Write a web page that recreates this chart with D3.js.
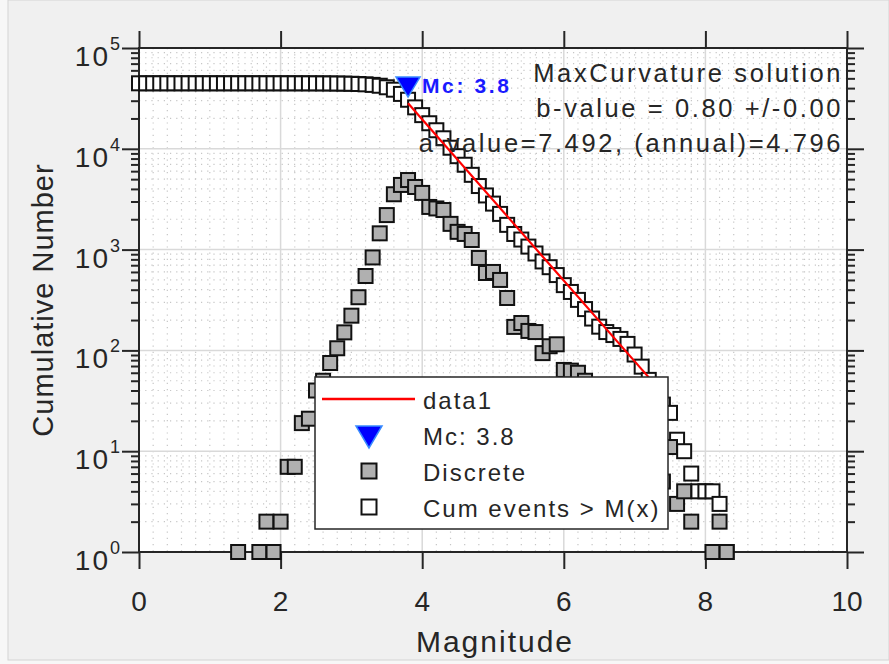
<!DOCTYPE html>
<html>
<head>
  <meta charset="utf-8">
  <script src="https://d3js.org/d3.v7.min.js"></script>
  <style>
    body{ margin:0; background:#f7f7f7; }
    text{ font-family: Arial, "Liberation Sans", Helvetica, sans-serif; fill:#262626; }
    .tick text{ display:none; }
    path.domain{ display:none; }
    .tick line{ stroke:#262626; stroke-width:2; }
  </style>
</head>
<body>
<script>
  // magnitude bins for the cumulative curve
  var cumMag = [0.0,0.1,0.2,0.3,0.4,0.5,0.6,0.7,0.8,0.9,1.0,1.1,1.2,1.3,1.4,1.5,1.6,1.7,1.8,1.9,
    2.0,2.1,2.2,2.3,2.4,2.5,2.6,2.7,2.8,2.9,3.0,3.1,3.2,3.3,3.4,3.5,3.6,3.7,3.8,3.9,
    4.0,4.1,4.2,4.3,4.4,4.5,4.6,4.7,4.8,4.9,5.0,5.1,5.2,5.3,5.4,5.5,5.6,5.7,5.8,5.9,
    6.0,6.1,6.2,6.3,6.4,6.5,6.6,6.7,6.8,6.9,7.0,7.1,7.2,7.3,7.4,7.5,7.6,7.7,7.8,7.9,
    8.0,8.1,8.2,8.3];
  var cumCount = [44650,44650,44650,44650,44650,44650,44650,44650,44650,44650,44650,44650,44650,44650,44650,44649,44649,44649,44648,44646,
    44645,44643,44636,44629,44610,44589,44549,44499,44424,44319,44168,43947,43610,43063,42227,40777,38577,35037,30657,25757,
    21577,17927,15277,12717,10247,8447,6947,5517,4272,3446,2860,2260,1760,1429,1258,1071,915,763,669,559,
    444,380,317,257,207,172,152,142,130,116,91,69,51,39,29,24,13,10,6,4,
    4,4,3,1];

  // discrete counts (non-empty bins only)
  var discMag = [1.4,1.7,1.8,1.9,2.0,2.1,2.2,2.3,2.4,2.5,2.6,2.7,2.8,2.9,3.0,3.1,3.2,3.3,3.4,3.5,
    3.6,3.7,3.8,3.9,4.0,4.1,4.2,4.3,4.4,4.5,4.6,4.7,4.8,4.9,5.0,5.1,5.2,5.3,5.4,5.5,
    5.6,5.7,5.8,5.9,6.0,6.1,6.2,6.3,6.4,6.5,6.6,6.7,6.8,6.9,7.0,7.1,7.2,7.3,7.4,7.5,
    7.6,7.7,7.8,8.1,8.2,8.3];
  var discCount = [1,1,2,1,2,7,7,19,21,40,50,75,105,151,221,337,547,836,1450,2200,
    3540,4380,4900,4180,3650,2650,2560,2470,1800,1500,1430,1245,826,586,600,500,331,171,187,156,
    152,94,110,115,64,63,60,50,35,20,10,12,14,25,22,18,12,10,5,11,
    3,4,2,1,2,1];

  var fitMag = [3.8, 7.2];
  var fitCount = [28300, 54];
  var mcMag = 3.8, mcCount = 41000;

  var xTicks = [0,2,4,6,8,10];
  var yTicks = [1,10,100,1000,10000,100000];
  var yExp = ['0','1','2','3','4','5'];
  var notes = ['MaxCurvature solution', 'b-value = 0.80 +/-0.00', 'a-value=7.492, (annual)=4.796'];
  var legendItems = ['data1', 'Mc: 3.8', 'Discrete', 'Cum events > M(x)'];

  var width = 889, height = 664;
  var box = {left: 139, right: 847, top: 48, bottom: 552};

  var x = d3.scaleLinear().domain([0, 10]).range([box.left, box.right]);
  var y = d3.scaleLog().domain([1, 1e5]).range([box.bottom, box.top]);

  var svg = d3.select('body').append('svg')
    .attr('width', width)
    .attr('height', height);

  // figure background
  svg.append('rect').attr('x', 8).attr('y', 0).attr('width', width - 8).attr('height', 660)
    .attr('fill', '#f0f0f0').attr('stroke', '#d4d4d4');

  svg.append('rect')
    .attr('x', box.left).attr('y', box.top)
    .attr('width', box.right - box.left).attr('height', box.bottom - box.top)
    .attr('fill', '#ffffff');

  // minor grid (dotted)
  var xMinor = d3.range(0.2, 10, 0.2).filter(function(v){ return Math.abs(v / 2 - Math.round(v / 2)) > 0.01; });
  var yMinor = [];
  [1, 10, 100, 1000, 10000].forEach(function(d){ for (var k = 2; k <= 9; k++) yMinor.push(k * d); });

  var grid = svg.append('g');
  grid.selectAll('line.xminor').data(xMinor).enter().append('line')
    .attr('x1', d => x(d)).attr('x2', d => x(d))
    .attr('y1', box.top).attr('y2', box.bottom)
    .attr('stroke', '#c6c6c6').attr('stroke-width', 1.2).attr('stroke-dasharray', '1.2,5');
  grid.selectAll('line.yminor').data(yMinor).enter().append('line')
    .attr('y1', d => y(d)).attr('y2', d => y(d))
    .attr('x1', box.left).attr('x2', box.right)
    .attr('stroke', '#c6c6c6').attr('stroke-width', 1.2).attr('stroke-dasharray', '1.2,5');

  // major grid
  grid.selectAll('line.xmajor').data(xTicks.slice(1, -1)).enter().append('line')
    .attr('x1', d => x(d)).attr('x2', d => x(d))
    .attr('y1', box.top).attr('y2', box.bottom)
    .attr('stroke', '#d9d9d9').attr('stroke-width', 1.5);
  grid.selectAll('line.ymajor').data(yTicks.slice(1, -1)).enter().append('line')
    .attr('y1', d => y(d)).attr('y2', d => y(d))
    .attr('x1', box.left).attr('x2', box.right)
    .attr('stroke', '#d9d9d9').attr('stroke-width', 1.5);

  // ticks (outward, on all four sides)
  svg.append('g').attr('transform', `translate(0,${box.bottom})`)
    .call(d3.axisBottom(x).tickValues(xTicks).tickSize(17));
  svg.append('g').attr('transform', `translate(0,${box.top})`)
    .call(d3.axisTop(x).tickValues(xTicks).tickSize(17));
  svg.append('g').attr('transform', `translate(${box.left},0)`)
    .call(d3.axisLeft(y).tickValues(yTicks).tickSize(17));
  svg.append('g').attr('transform', `translate(${box.right},0)`)
    .call(d3.axisRight(y).tickValues(yTicks).tickSize(17));
  svg.append('g').attr('transform', `translate(${box.left},0)`)
    .call(d3.axisLeft(y).tickValues(yMinor).tickSize(8));
  svg.append('g').attr('transform', `translate(${box.right},0)`)
    .call(d3.axisRight(y).tickValues(yMinor).tickSize(8));

  svg.append('rect')
    .attr('x', box.left).attr('y', box.top)
    .attr('width', box.right - box.left).attr('height', box.bottom - box.top)
    .attr('fill', 'none').attr('stroke', '#262626').attr('stroke-width', 2);

  // tick labels
  svg.selectAll('text.xlab').data(xTicks).enter().append('text')
    .attr('x', d => x(d)).attr('y', 611)
    .attr('text-anchor', 'middle')
    .style('font-size', '28px')
    .text(d => d);

  svg.selectAll('text.ylab').data(yTicks).enter().append('text')
    .attr('x', 110).attr('y', d => y(d) + 18)
    .attr('text-anchor', 'end')
    .style('font-size', '28px').style('letter-spacing', '2px')
    .text('10');
  svg.selectAll('text.yexp').data(yTicks).enter().append('text')
    .attr('x', 110).attr('y', (d) => y(d) + 2)
    .style('font-size', '18px')
    .text((d, i) => yExp[i]);

  // axis labels
  svg.append('text')
    .attr('x', (box.left + box.right) / 2 + 2).attr('y', 652)
    .attr('text-anchor', 'middle')
    .style('font-size', '30px').style('letter-spacing', '2px')
    .text('Magnitude');
  svg.append('text')
    .attr('transform', `translate(53,${(box.top + box.bottom) / 2}) rotate(-90)`)
    .attr('text-anchor', 'middle')
    .style('font-size', '29px').style('letter-spacing', '1px')
    .text('Cumulative Number');

  // data
  var sq = 14;
  var cum = cumMag.map((m, i) => ({m: m, n: cumCount[i]}));
  var disc = discMag.map((m, i) => ({m: m, n: discCount[i]}));

  svg.selectAll('rect.cum').data(cum).enter().append('rect')
    .attr('x', d => x(d.m) - sq / 2).attr('y', d => y(d.n) - sq / 2)
    .attr('width', sq).attr('height', sq)
    .attr('fill', '#ffffff').attr('stroke', '#111111').attr('stroke-width', 2);

  svg.selectAll('rect.disc').data(disc).enter().append('rect')
    .attr('x', d => x(d.m) - sq / 2).attr('y', d => y(d.n) - sq / 2)
    .attr('width', sq).attr('height', sq)
    .attr('fill', '#b0b0b0').attr('stroke', '#111111').attr('stroke-width', 2);

  svg.append('path')
    .datum(fitMag.map((m, i) => [m, fitCount[i]]))
    .attr('d', d3.line().x(d => x(d[0])).y(d => y(d[1])))
    .attr('stroke', '#ff0000').attr('stroke-width', 2.2).attr('fill', 'none');

  var tri = function(cx, cy, w, h){
    return `M${cx - w / 2},${cy - h / 2}L${cx + w / 2},${cy - h / 2}L${cx},${cy + h / 2}Z`;
  };
  svg.append('path')
    .attr('d', tri(x(mcMag), y(mcCount), 24, 20))
    .attr('fill', '#0000ff').attr('stroke', '#3a8cff').attr('stroke-width', 1.5);
  svg.append('text')
    .attr('x', x(mcMag) + 14).attr('y', y(mcCount) + 6)
    .style('font-size', '21px').style('font-weight', 'bold').style('letter-spacing', '2.6px')
    .style('fill', '#1a1aff')
    .text('Mc: 3.8');

  // annotation
  svg.selectAll('text.note').data(notes).enter().append('text')
    .attr('x', 843).attr('y', (d, i) => 82 + i * 35)
    .attr('text-anchor', 'end')
    .style('font-size', '25.5px').style('letter-spacing', '2.6px')
    .text(d => d);

  // legend
  var lg = svg.append('g');
  lg.append('rect').attr('x', 315).attr('y', 377).attr('width', 353).attr('height', 152)
    .attr('fill', '#ffffff').attr('stroke', '#262626').attr('stroke-width', 1.5);
  var rowY = [399, 435, 471, 507];
  lg.selectAll('text').data(legendItems).enter().append('text')
    .attr('x', 423).attr('y', (d, i) => rowY[i] + 10)
    .style('font-size', '24px').style('letter-spacing', '2px')
    .text(d => d);
  lg.append('line').attr('x1', 322).attr('x2', 415).attr('y1', rowY[0]).attr('y2', rowY[0])
    .attr('stroke', '#ff0000').attr('stroke-width', 2.5);
  lg.append('path').attr('d', tri(369, rowY[1] + 2, 26, 22))
    .attr('fill', '#0000ff').attr('stroke', '#3a8cff').attr('stroke-width', 1.5);
  lg.append('rect').attr('x', 369 - 7.5).attr('y', rowY[2] - 7.5).attr('width', 15).attr('height', 15)
    .attr('fill', '#b0b0b0').attr('stroke', '#111111').attr('stroke-width', 2);
  lg.append('rect').attr('x', 369 - 7.5).attr('y', rowY[3] - 7.5).attr('width', 15).attr('height', 15)
    .attr('fill', '#ffffff').attr('stroke', '#111111').attr('stroke-width', 2);
</script>
</body>
</html>
